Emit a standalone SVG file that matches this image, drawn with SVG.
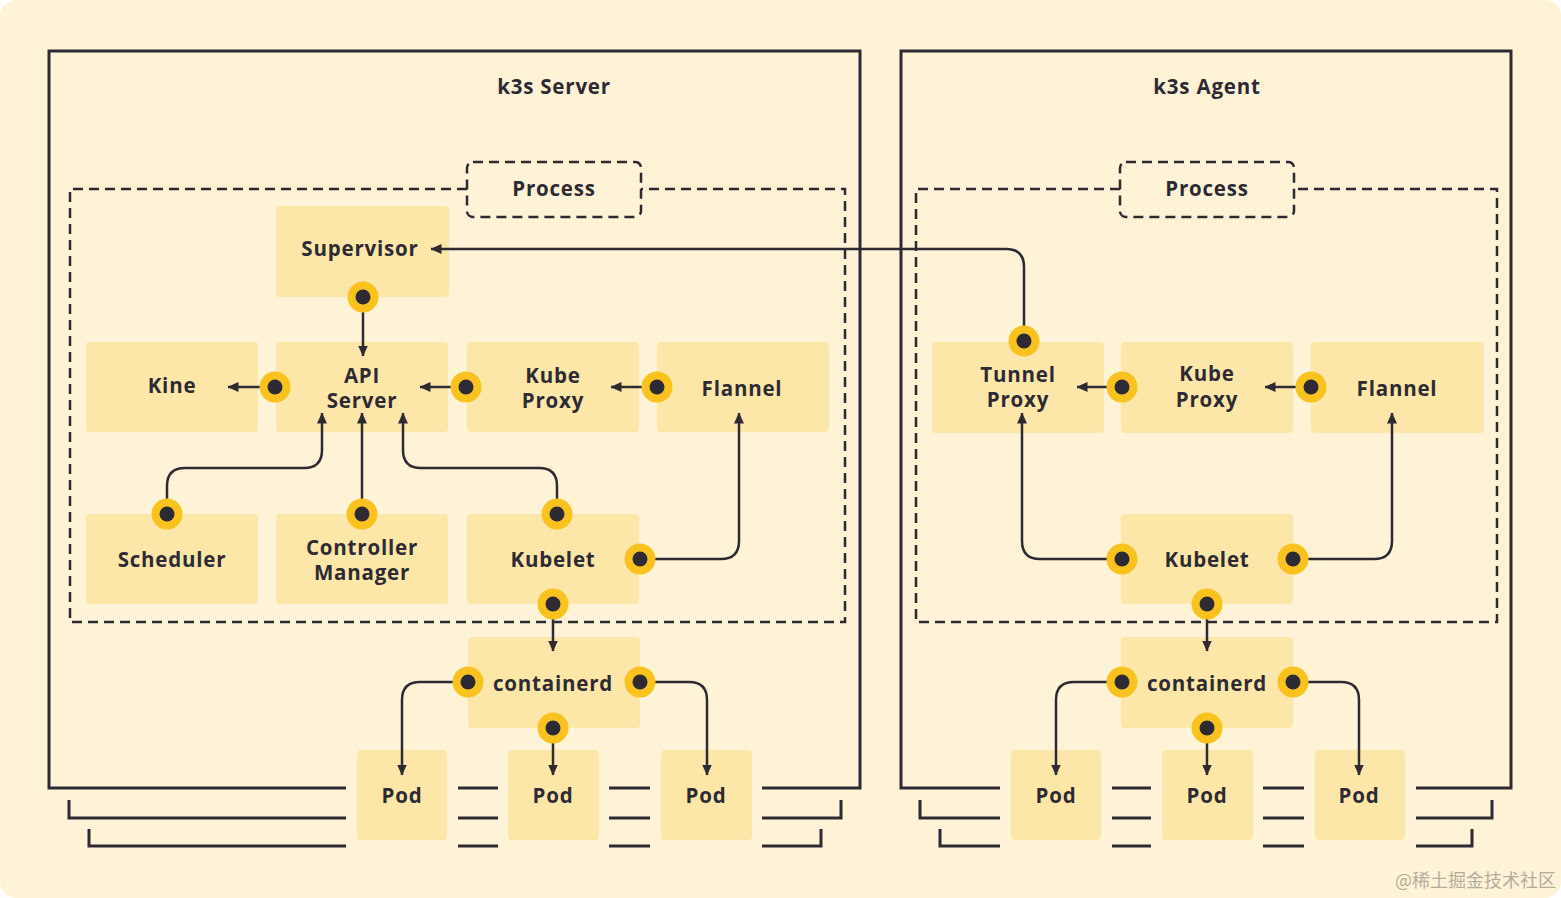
<svg xmlns="http://www.w3.org/2000/svg" width="1561" height="898" viewBox="0 0 1561 898">
<style>
.bg{fill:#FEF3D6}
.box{fill:none;stroke:#2E2A33;stroke-width:3}
.dash{fill:none;stroke:#2E2A33;stroke-width:2.5;stroke-dasharray:10 6}
.node{fill:#FDE7A8}
.t{font-family:"Open Sans","Noto Sans",sans-serif;font-weight:700;font-size:20.5px;letter-spacing:0.8px;fill:#2E2A33;text-anchor:middle}
.title{font-family:"Open Sans","Noto Sans",sans-serif;font-weight:700;font-size:20.5px;letter-spacing:0.8px;fill:#2E2A33;text-anchor:middle}
.c{fill:none;stroke:#2E2A33;stroke-width:2.5;marker-end:url(#ah)}
.ln{fill:none;stroke:#2E2A33;stroke-width:3}
.dout{fill:#F9C21E}
.din{fill:#2E2A33}
.wm{font-family:"Noto Sans CJK SC",sans-serif;font-size:18px;fill:#B5AD9C}
</style>
<defs>
<marker id="ah" markerWidth="11" markerHeight="10" refX="10.5" refY="5" orient="auto" markerUnits="userSpaceOnUse">
<path d="M0,0 L11,5 L0,10 z" fill="#2E2A33"/>
</marker>
<g id="dot"><circle r="15.5" class="dout"/><circle r="7.5" class="din"/></g>
</defs>
<rect width="1561" height="898" fill="#FFFFFF"/>
<rect width="1561" height="898" rx="16" class="bg"/>

<g id="server-frame">
<path class="box" d="M346,788 H49 V51 H860 V788 H762"/>
<path class="ln" d="M458,788 H498 M609,788 H650"/>
<path class="ln" d="M69,800 V818 H346 M458,818 H498 M609,818 H650 M762,818 H841 V800"/>
<path class="ln" d="M89,829 V846 H346 M458,846 H498 M609,846 H650 M762,846 H821 V829"/>
<text class="title" x="554" y="94">k3s Server</text>
<path class="dash" d="M467,189 H70 V622 H845 V189 H641"/>
<rect class="dash" x="467" y="162" width="174" height="55" rx="6"/>
<text class="t" x="554" y="196">Process</text>
</g>

<g id="agent-frame">
<path class="box" d="M1000,788 H901 V51 H1511 V788 H1416"/>
<path class="ln" d="M1112,788 H1151 M1263,788 H1304"/>
<path class="ln" d="M920,800 V818 H1000 M1112,818 H1151 M1263,818 H1304 M1416,818 H1492 V800"/>
<path class="ln" d="M940,829 V846 H1000 M1112,846 H1151 M1263,846 H1304 M1416,846 H1472 V829"/>
<text class="title" x="1207" y="94">k3s Agent</text>
<path class="dash" d="M1120,189 H916 V622 H1497 V189 H1294"/>
<rect class="dash" x="1120" y="162" width="174" height="55" rx="6"/>
<text class="t" x="1207" y="196">Process</text>
</g>

<g id="supervisor"><rect class="node" x="276" y="206" width="173" height="91" rx="4"/><text class="t" x="360" y="256">Supervisor</text></g>
<g id="kine"><rect class="node" x="86" y="342" width="172" height="90" rx="4"/><text class="t" x="172" y="393">Kine</text></g>
<g id="api-server"><rect class="node" x="276" y="342" width="172" height="90" rx="4"/><text class="t" x="362" y="383">API</text><text class="t" x="362" y="408">Server</text></g>
<g id="kube-proxy-s"><rect class="node" x="467" y="342" width="172" height="90" rx="4"/><text class="t" x="553" y="383">Kube</text><text class="t" x="553" y="408">Proxy</text></g>
<g id="flannel-s"><rect class="node" x="657" y="342" width="172" height="90" rx="4"/><text class="t" x="742" y="396">Flannel</text></g>
<g id="scheduler"><rect class="node" x="86" y="514" width="172" height="90" rx="4"/><text class="t" x="172" y="567">Scheduler</text></g>
<g id="controller-manager"><rect class="node" x="276" y="514" width="172" height="90" rx="4"/><text class="t" x="362" y="555">Controller</text><text class="t" x="362" y="580">Manager</text></g>
<g id="kubelet-s"><rect class="node" x="467" y="514" width="172" height="90" rx="4"/><text class="t" x="553" y="567">Kubelet</text></g>
<g id="containerd-s"><rect class="node" x="468" y="637" width="172" height="91" rx="4"/><text class="t" x="553" y="691">containerd</text></g>
<g id="pod-s1"><rect class="node" x="357" y="750" width="90" height="90" rx="4"/><text class="t" x="402" y="803">Pod</text></g>
<g id="pod-s2"><rect class="node" x="508" y="750" width="91" height="90" rx="4"/><text class="t" x="553" y="803">Pod</text></g>
<g id="pod-s3"><rect class="node" x="661" y="750" width="91" height="90" rx="4"/><text class="t" x="706" y="803">Pod</text></g>

<g id="tunnel-proxy"><rect class="node" x="932" y="342" width="172" height="91" rx="4"/><text class="t" x="1018" y="382">Tunnel</text><text class="t" x="1018" y="407">Proxy</text></g>
<g id="kube-proxy-a"><rect class="node" x="1121" y="342" width="172" height="91" rx="4"/><text class="t" x="1207" y="381">Kube</text><text class="t" x="1207" y="407">Proxy</text></g>
<g id="flannel-a"><rect class="node" x="1311" y="342" width="173" height="91" rx="4"/><text class="t" x="1397" y="396">Flannel</text></g>
<g id="kubelet-a"><rect class="node" x="1121" y="514" width="172" height="90" rx="4"/><text class="t" x="1207" y="567">Kubelet</text></g>
<g id="containerd-a"><rect class="node" x="1121" y="637" width="172" height="91" rx="4"/><text class="t" x="1207" y="691">containerd</text></g>
<g id="pod-a1"><rect class="node" x="1011" y="750" width="90" height="90" rx="4"/><text class="t" x="1056" y="803">Pod</text></g>
<g id="pod-a2"><rect class="node" x="1162" y="750" width="91" height="90" rx="4"/><text class="t" x="1207" y="803">Pod</text></g>
<g id="pod-a3"><rect class="node" x="1315" y="750" width="90" height="90" rx="4"/><text class="t" x="1359" y="803">Pod</text></g>

<g id="connectors">
<path class="c" d="M363,297 V356"/>
<path class="c" d="M275,387 H228"/>
<path class="c" d="M466,387 H420"/>
<path class="c" d="M657,387 H611"/>
<path class="c" d="M167,514 V486 Q167,468 185,468 H304 Q322,468 322,450 V413"/>
<path class="c" d="M362,514 V413"/>
<path class="c" d="M557,514 V486 Q557,468 539,468 H421 Q403,468 403,450 V413"/>
<path class="c" d="M640,559 H721 Q739,559 739,541 V413"/>
<path class="c" d="M553,604 V651"/>
<path class="c" d="M468,682 H420 Q402,682 402,700 V775"/>
<path class="c" d="M640,682 H689 Q707,682 707,700 V775"/>
<path class="c" d="M553,728 V775"/>
<path class="c" d="M1024,341 V267 Q1024,249 1006,249 H431"/>
<path class="c" d="M1122,387 H1077"/>
<path class="c" d="M1311,387 H1265"/>
<path class="c" d="M1122,559 H1040 Q1022,559 1022,541 V413"/>
<path class="c" d="M1293,559 H1374 Q1392,559 1392,541 V413"/>
<path class="c" d="M1207,604 V651"/>
<path class="c" d="M1122,682 H1074 Q1056,682 1056,700 V775"/>
<path class="c" d="M1293,682 H1341 Q1359,682 1359,700 V775"/>
<path class="c" d="M1207,728 V775"/>
</g>

<g id="ports">
<use href="#dot" x="363" y="297"/>
<use href="#dot" x="275" y="387"/>
<use href="#dot" x="466" y="387"/>
<use href="#dot" x="657" y="387"/>
<use href="#dot" x="167" y="514"/>
<use href="#dot" x="362" y="514"/>
<use href="#dot" x="557" y="514"/>
<use href="#dot" x="640" y="559"/>
<use href="#dot" x="553" y="604"/>
<use href="#dot" x="468" y="682"/>
<use href="#dot" x="640" y="682"/>
<use href="#dot" x="553" y="728"/>
<use href="#dot" x="1024" y="341"/>
<use href="#dot" x="1122" y="387"/>
<use href="#dot" x="1311" y="387"/>
<use href="#dot" x="1122" y="559"/>
<use href="#dot" x="1293" y="559"/>
<use href="#dot" x="1207" y="604"/>
<use href="#dot" x="1122" y="682"/>
<use href="#dot" x="1293" y="682"/>
<use href="#dot" x="1207" y="728"/>
</g>

<text class="wm" x="1395" y="887">@稀土掘金技术社区</text>
</svg>
